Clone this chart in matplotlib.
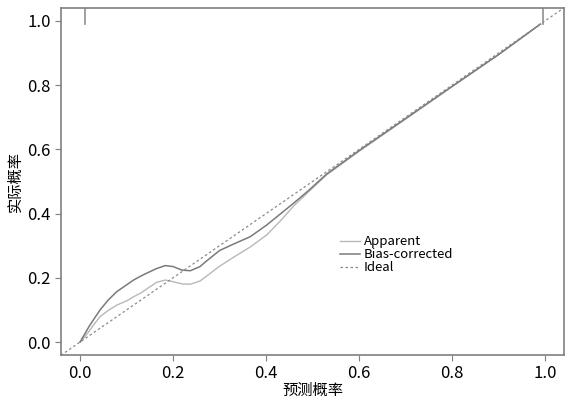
import numpy as np
import matplotlib.pyplot as plt

plt.rcParams['font.family'] = ['Noto Sans CJK SC', 'DejaVu Sans']

# predicted probability grid
pred = [0.0, 0.01, 0.02, 0.03, 0.043, 0.06, 0.079, 0.1, 0.115, 0.13, 0.15, 0.165,
        0.183, 0.2, 0.219, 0.237, 0.258, 0.27, 0.3, 0.33, 0.366, 0.401, 0.43,
        0.459, 0.49, 0.53, 0.6, 0.7, 0.8, 0.9, 0.99]
apparent = [0.0, 0.016, 0.035, 0.055, 0.079, 0.098, 0.115, 0.128, 0.141, 0.152, 0.172,
            0.186, 0.193, 0.188, 0.181, 0.18, 0.19, 0.203, 0.236, 0.264, 0.296, 0.333,
            0.376, 0.423, 0.466, 0.52, 0.594, 0.694, 0.795, 0.895, 0.99]
bias_corrected = [0.0, 0.025, 0.05, 0.072, 0.1, 0.13, 0.157, 0.178, 0.193, 0.205, 0.219,
                  0.229, 0.238, 0.235, 0.224, 0.222, 0.235, 0.25, 0.285, 0.305, 0.328,
                  0.364, 0.398, 0.432, 0.47, 0.523, 0.596, 0.696, 0.796, 0.895, 0.99]
ideal = [-0.05, 1.05]
rug = [0.01, 0.995]

fig = plt.figure(figsize=(5.81, 4.01), dpi=100)
ax = fig.add_axes([0.105, 0.115, 0.866, 0.865])

ax.plot(pred, apparent, color='#b8b8b8', lw=1.0, label='Apparent')
ax.plot(pred, bias_corrected, color='#7a7a7a', lw=1.1, label='Bias-corrected')
ax.plot(ideal, ideal, color='#8a8a8a', lw=0.9, ls=(0, (2, 2)), label='Ideal')

for r in rug:
    ax.plot([r, r], [1.04, 0.99], color='#909090', lw=1.2)

ax.set_xlim(-0.041, 1.041)
ax.set_ylim(-0.04, 1.04)
ax.set_xticks([0.0, 0.2, 0.4, 0.6, 0.8, 1.0])
ax.set_yticks([0.0, 0.2, 0.4, 0.6, 0.8, 1.0])
ax.set_xticklabels(['0.0', '0.2', '0.4', '0.6', '0.8', '1.0'])
ax.set_yticklabels(['0.0', '0.2', '0.4', '0.6', '0.8', '1.0'])
ax.tick_params(colors='#808080', labelcolor='black', labelsize=12, length=4)
for s in ax.spines.values():
    s.set_color('#808080')
    s.set_linewidth(1.2)

ax.set_xlabel('预测概率', fontsize=11, labelpad=0)
ax.set_ylabel('实际概率', fontsize=11, labelpad=2)

leg = ax.legend(loc='upper left', bbox_to_anchor=(0.555, 0.345), frameon=False,
                fontsize=9.5, handlelength=1.5, handletextpad=0.3,
                labelspacing=0.0, borderaxespad=0, borderpad=0)

fig.savefig('out.png', dpi=100)
